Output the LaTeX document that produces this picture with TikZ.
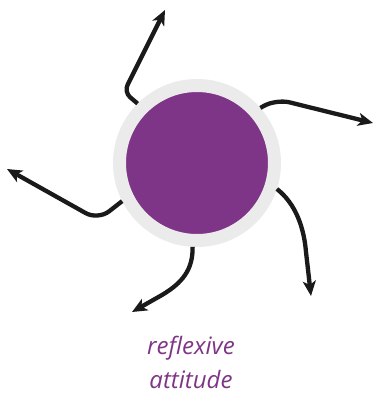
\documentclass[tikz,border=0pt]{standalone}
\usepackage{fontspec}
\setmainfont{Open Sans}
\usetikzlibrary{arrows.meta}
\definecolor{attpurple}{HTML}{7F3587}
\definecolor{ringgray}{HTML}{EBEBEB}
\definecolor{arrowblack}{HTML}{1A1A1A}
\tikzset{
	flow/.style={line width=4.3pt, color=arrowblack, -{Stealth[length=15pt, width=13pt, inset=4pt]}},
}

\begin{document}
\begin{tikzpicture}[x=1pt, y=-1pt]
		%%%%% START %%%%%
		\useasboundingbox (0, 0) rectangle (374, 394);
		
		\node[circle, minimum size=155pt, inner sep=0pt, fill=attpurple, draw=ringgray, line width=13pt] (core) at (197, 163) {};
		
		\draw[flow, rounded corners=8pt] (core.135) -- (124, 92) -- (165, 10);
		\draw[flow, rounded corners=14pt] (core.41) -- (276, 99) -- (373, 123);
		\draw[flow] (core.-18) .. controls (296, 204) and (304, 228) .. (306, 252) -- (311, 296);
		\draw[flow] (core.-93) .. controls (193, 270) and (182, 283) .. (162, 295) -- (132, 312);
		\draw[flow, rounded corners=14pt] (core.-153) -- (98, 220) -- (7, 169);
		
		\node[color=attpurple, font=\itshape\fontsize{24}{34}\selectfont, align=center] (label) at (191, 362) {reflexive\\attitude};
		
		%%%%% END %%%%%
	\end{tikzpicture}
\end{document}
